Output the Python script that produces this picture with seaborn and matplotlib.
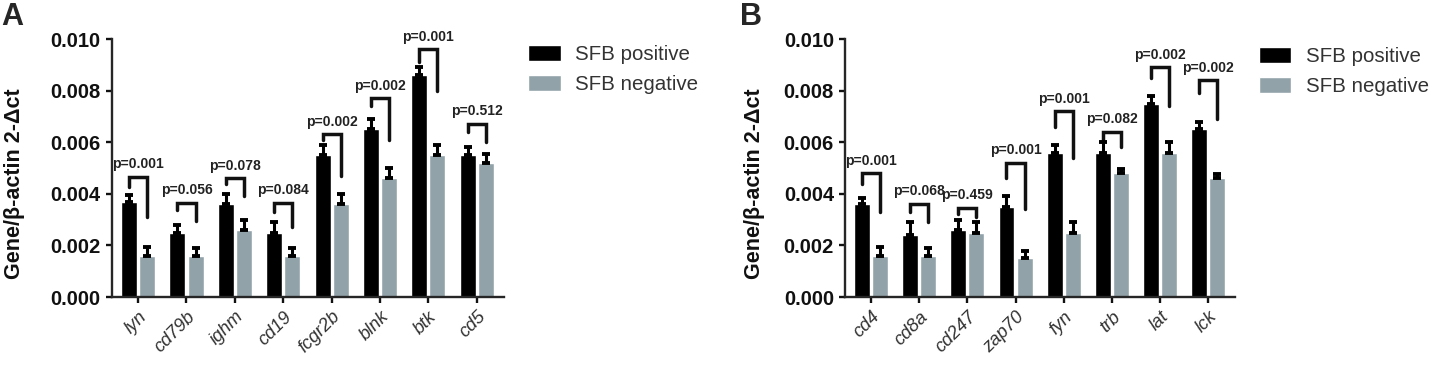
import numpy as np
import pandas as pd
import matplotlib
matplotlib.use("Agg")
import matplotlib.pyplot as plt
import seaborn as sns

# Panel A: B-cell genes
genes_a = ["lyn", "cd79b", "ighm", "cd19", "fcgr2b", "blnk", "btk", "cd5"]
pos_a = [0.0037, 0.0025, 0.0036, 0.0025, 0.0055, 0.0065, 0.0086, 0.0055]
pos_err_a = [0.00025, 0.0003, 0.0004, 0.0004, 0.0004, 0.0004, 0.0003, 0.0003]
neg_a = [0.0016, 0.0016, 0.0026, 0.0016, 0.0036, 0.0046, 0.0055, 0.0052]
neg_err_a = [0.00035, 0.0003, 0.0004, 0.0003, 0.0004, 0.0004, 0.0004, 0.00035]
brk_top_a = [0.00465, 0.00364, 0.0046, 0.00365, 0.0063, 0.0077, 0.0096, 0.0067]
brk_left_a = [0.00426, 0.00337, 0.0044, 0.0033, 0.0061, 0.0074, 0.0091, 0.0064]
brk_right_a = [0.0031, 0.00295, 0.0039, 0.0027, 0.0047, 0.0061, 0.0080, 0.0060]
pvals_a = ["p=0.001", "p=0.056", "p=0.078", "p=0.084", "p=0.002", "p=0.002", "p=0.001", "p=0.512"]

# Panel B: T-cell genes
genes_b = ["cd4", "cd8a", "cd247", "zap70", "fyn", "trb", "lat", "lck"]
pos_b = [0.0036, 0.0024, 0.0026, 0.0035, 0.0056, 0.0056, 0.0075, 0.0065]
pos_err_b = [0.00025, 0.0005, 0.0004, 0.0004, 0.0003, 0.0004, 0.0003, 0.0003]
neg_b = [0.0016, 0.0016, 0.0025, 0.0015, 0.0025, 0.0048, 0.0056, 0.0046]
neg_err_b = [0.00035, 0.0003, 0.0004, 0.0003, 0.0004, 0.00015, 0.0004, 0.00015]
brk_top_b = [0.0048, 0.0036, 0.00345, 0.0052, 0.0072, 0.0064, 0.0089, 0.0084]
brk_left_b = [0.0044, 0.0033, 0.0032, 0.0046, 0.0066, 0.0061, 0.0085, 0.0079]
brk_right_b = [0.0033, 0.0029, 0.0031, 0.0034, 0.0054, 0.0058, 0.0074, 0.0069]
pvals_b = ["p=0.001", "p=0.068", "p=0.459", "p=0.001", "p=0.001", "p=0.082", "p=0.002", "p=0.002"]

groups = ["SFB positive", "SFB negative"]
colors = ["#000000", "#8ea3ad"]

sns.set_style("ticks")
plt.rcParams["font.family"] = ["Liberation Sans", "DejaVu Sans"]

fig = plt.figure(figsize=(14.5, 3.83), dpi=100)


def draw_panel(rect, genes, pos, pos_err, neg, neg_err, tops, lefts, rights, pvals, legend_xy, ylabel_x):
    ax = fig.add_axes(rect)
    df = pd.DataFrame({
        "gene": genes * 2,
        "group": [groups[0]] * len(genes) + [groups[1]] * len(genes),
        "value": pos + neg,
    })
    sns.barplot(data=df, x="gene", y="value", hue="group", hue_order=groups,
                palette=colors, width=0.75, gap=0.12, errorbar=None,
                legend=False, ax=ax)
    bars = list(ax.containers)

    # upper error bars only, placed on the drawn bars
    centers = []
    for cont, vals, errs in zip(bars, [pos, neg], [pos_err, neg_err]):
        xs = np.array([p.get_x() + p.get_width() / 2 for p in cont])
        centers.append(xs)
        ax.errorbar(xs, vals, yerr=[np.zeros(len(errs)), errs], fmt="none",
                    ecolor="black", elinewidth=2.2, capsize=3, capthick=2.8, zorder=3)

    # significance brackets
    for i in range(len(genes)):
        x0, x1 = centers[0][i], centers[1][i]
        ax.plot([x0, x0, x1, x1], [lefts[i], tops[i], tops[i], rights[i]],
                color="#111111", lw=2.5, clip_on=False, solid_joinstyle="miter")
        ax.text((x0 + x1) / 2, tops[i] + 0.00022, pvals[i], ha="center", va="bottom",
                fontsize=10, fontweight="bold", color="#222222", clip_on=False)

    ax.set_ylim(0, 0.010)
    ax.set_xlim(-0.54, len(genes) - 0.44)
    ax.set_yticks(np.arange(0, 0.0101, 0.002))
    ax.set_yticklabels([f"{v:.3f}" for v in np.arange(0, 0.0101, 0.002)],
                       fontsize=14.5, fontweight="bold", color="#111111")
    ax.set_xticks(range(len(genes)))
    ax.set_xticklabels(genes, rotation=45, ha="right", rotation_mode="anchor",
                       fontsize=13.2, fontstyle="italic", color="#333333")
    ax.set_xlabel("")
    ax.set_ylabel("Gene/β-actin 2-Δct", fontsize=15.5, fontweight="bold", color="#111111")
    ax.yaxis.set_label_coords(ylabel_x, 0.44)
    sns.despine(ax=ax)
    for s in ["left", "bottom"]:
        ax.spines[s].set_linewidth(1.7)
    ax.tick_params(width=1.7, length=4.5, color="#111111")

    handles = [cont.patches[0] for cont in bars]
    ax.legend(handles, groups, loc="upper left", bbox_to_anchor=legend_xy,
              bbox_transform=fig.transFigure, frameon=False, fontsize=14.8,
              handlelength=1.6, handleheight=0.85, handletextpad=0.7,
              labelspacing=0.5, borderpad=0, borderaxespad=0,
              labelcolor="#333333")
    return ax


draw_panel([0.0772, 0.2245, 0.2703, 0.6736], genes_a, pos_a, pos_err_a, neg_a, neg_err_a,
           brk_top_a, brk_left_a, brk_right_a, pvals_a, (0.364, 1 - 45 / 383), -0.222)
draw_panel([0.5828, 0.2245, 0.2690, 0.6736], genes_b, pos_b, pos_err_b, neg_b, neg_err_b,
           brk_top_b, brk_left_b, brk_right_b, pvals_b, (0.868, 1 - 47 / 383), -0.205)

fig.text(0.001, 0.995, "A", fontsize=22, fontweight="bold", va="top")
fig.text(0.510, 0.995, "B", fontsize=22, fontweight="bold", va="top")

fig.savefig("out.png", dpi=100)
